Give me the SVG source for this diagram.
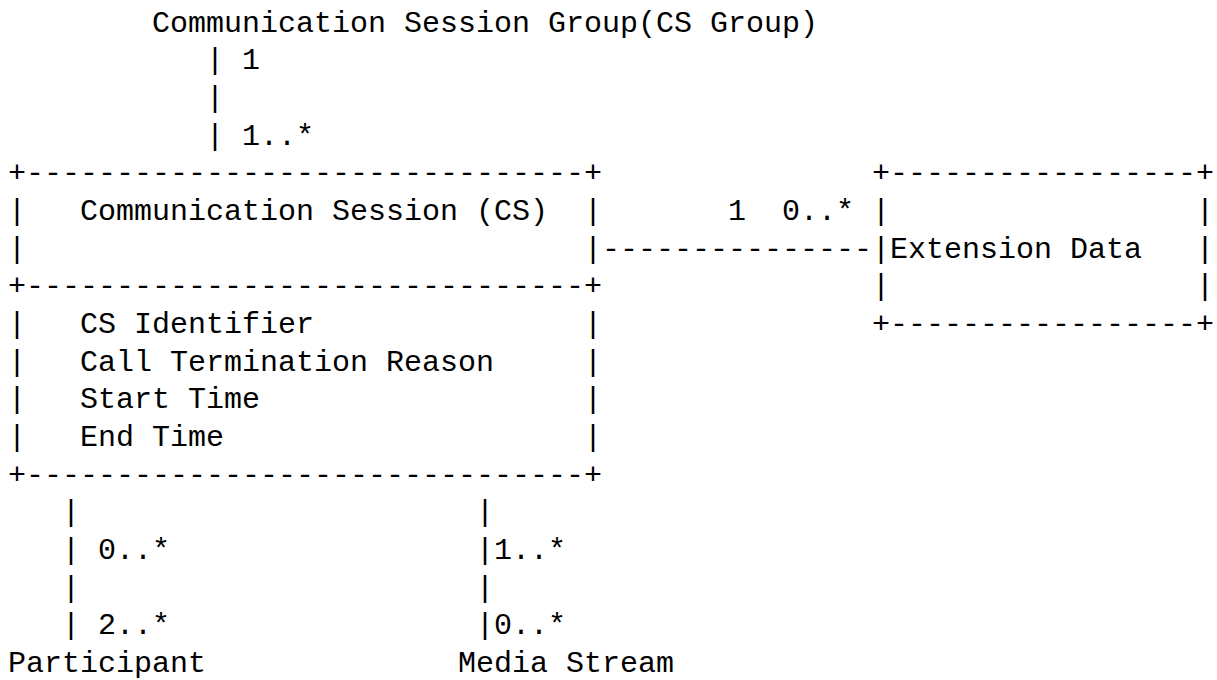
<svg xmlns="http://www.w3.org/2000/svg" width="1217" height="680" viewBox="0 0 1217 680">
<style>
text{font-family:"Liberation Mono","DejaVu Sans Mono",monospace;font-size:30px;fill:#000;white-space:pre}
</style>
<rect width="1217" height="680" fill="#fff"/>
<g id="cs-group">
<text x="152" y="31.5">Communication Session Group(CS Group)</text>
</g>
<g id="cs">
<text x="8" y="182.2">+-------------------------------+</text>
<text x="8" y="219.9">|</text>
<text x="80" y="219.9">Communication Session (CS)</text>
<text x="584" y="219.9">|</text>
<text x="8" y="257.6">|</text>
<text x="584" y="257.6">|</text>
<text x="8" y="295.3">+-------------------------------+</text>
<text x="8" y="332.9">|</text>
<text x="80" y="332.9">CS Identifier</text>
<text x="584" y="332.9">|</text>
<text x="8" y="370.6">|</text>
<text x="80" y="370.6">Call Termination Reason</text>
<text x="584" y="370.6">|</text>
<text x="8" y="408.3">|</text>
<text x="80" y="408.3">Start Time</text>
<text x="584" y="408.3">|</text>
<text x="8" y="446">|</text>
<text x="80" y="446">End Time</text>
<text x="584" y="446">|</text>
<text x="8" y="483.7">+-------------------------------+</text>
</g>
<g id="extension-data">
<text x="872" y="182.2">+-----------------+</text>
<text x="872" y="219.9">|</text>
<text x="1196" y="219.9">|</text>
<text x="872" y="257.6">|</text>
<text x="890" y="257.6">Extension Data</text>
<text x="1196" y="257.6">|</text>
<text x="872" y="295.3">|</text>
<text x="1196" y="295.3">|</text>
<text x="872" y="332.9">+-----------------+</text>
</g>
<g id="participant">
<text x="8" y="672.1">Participant</text>
</g>
<g id="media-stream">
<text x="458" y="672.1">Media Stream</text>
</g>
<g id="connectors">
<text x="206" y="69.2">|</text>
<text x="242" y="69.2">1</text>
<text x="206" y="106.9">|</text>
<text x="206" y="144.5">|</text>
<text x="242" y="144.5">1..*</text>
<text x="728" y="219.9">1</text>
<text x="782" y="219.9">0..*</text>
<text x="602" y="257.6">---------------</text>
<text x="62" y="521.3">|</text>
<text x="62" y="559">|</text>
<text x="98" y="559">0..*</text>
<text x="62" y="596.7">|</text>
<text x="62" y="634.4">|</text>
<text x="98" y="634.4">2..*</text>
<text x="476" y="521.3">|</text>
<text x="476" y="559">|</text>
<text x="494" y="559">1..*</text>
<text x="476" y="596.7">|</text>
<text x="476" y="634.4">|</text>
<text x="494" y="634.4">0..*</text>
</g>
</svg>
